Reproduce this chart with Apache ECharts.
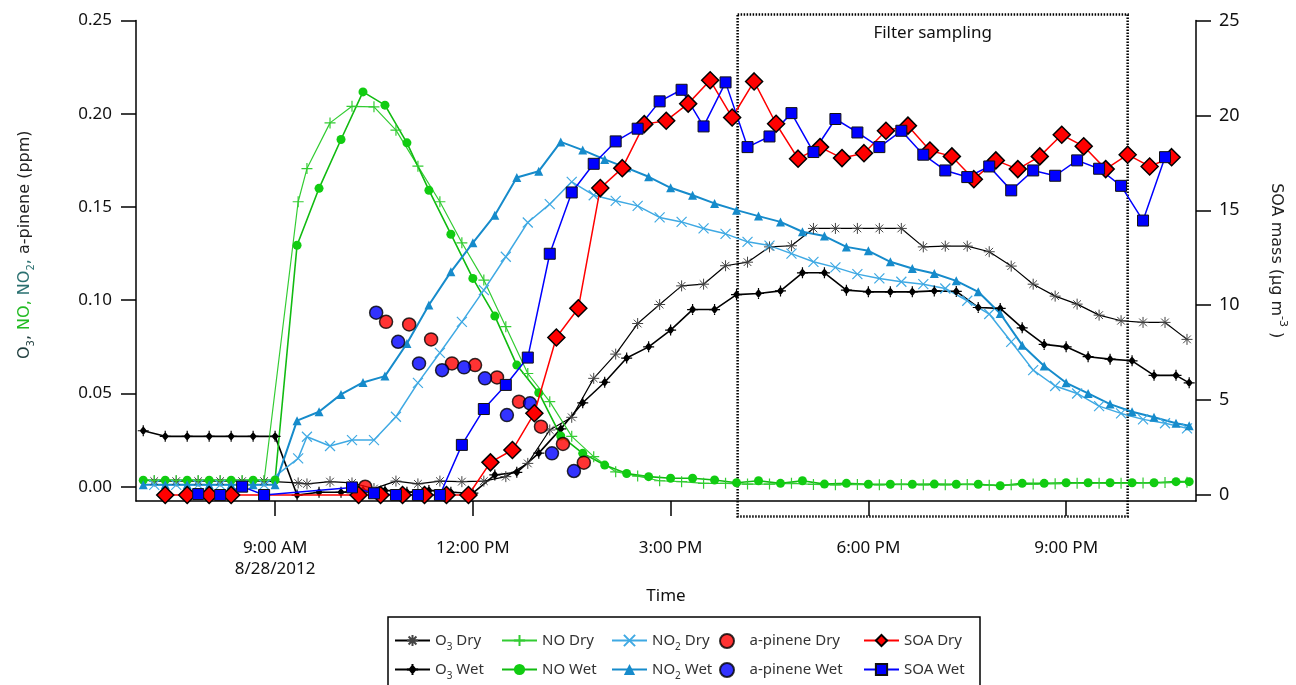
<!DOCTYPE html>
<html><head><meta charset="utf-8">
<script src="https://cdn.jsdelivr.net/npm/echarts@6/dist/echarts.min.js"></script>
<style>html,body{margin:0;padding:0;background:#fff}#c{width:1296px;height:685px}</style>
</head><body><div id="c"></div>
<script>
// ---------- DATA ----------
const wetTimes = ['7:00','7:20','7:40','8:00','8:20','8:40','9:00','9:20','9:40','10:00','10:20','10:40','11:00','11:20','11:40','12:00','12:20','12:40','13:00','13:20','13:40','14:00','14:20','14:40','15:00','15:20','15:40','16:00','16:20','16:40','17:00','17:20','17:40','18:00','18:20','18:40','19:00','19:20','19:40','20:00','20:20','20:40','21:00','21:20','21:40','22:00','22:20','22:40','22:52'];
const dryTimes = ['7:10','7:30','7:50','8:10','8:30','8:50','9:21','9:29','9:50','10:10','10:30','10:50','11:10','11:30','11:50','12:10','12:30','12:50','13:10','13:30','13:50','14:10','14:30','14:50','15:10','15:30','15:50','16:10','16:30','16:50','17:10','17:30','17:50','18:10','18:30','18:50','19:10','19:30','19:50','20:10','20:30','20:50','21:10','21:30','21:50','22:10','22:30','22:50'];

const o3Wet = [0.030,0.027,0.027,0.027,0.027,0.027,0.027,
  -0.0045,-0.003,-0.003,-0.002,-0.002,-0.003,-0.002,-0.003,
  -0.0035,0.0063,0.0077, 0.018,0.031,0.045, 0.056,0.069,0.075, 0.084,0.095,0.095,
  0.103,0.1036,0.105, 0.1147,0.1147,0.1054, 0.1045,0.1045,0.1045, 0.105,0.1047,0.0961,
  0.0956,0.0852,0.0763, 0.075,0.0697,0.0684, 0.0675,0.0597,0.0597, 0.0557];
const noWet = [0.0035,0.0035,0.0035,0.0035,0.0035,0.0035,0.0036,
  0.1295,0.160,0.1862,0.2117,0.2046,0.1844,0.159,0.1354,
  0.1117,0.0915,0.0652, 0.0504,0.0272,0.0179, 0.0116,0.0071,0.0054, 0.0045,0.0045,0.0036,
  0.0021,0.0032,0.0018, 0.0032,0.0014,0.0018, 0.0013,0.0013,0.0013, 0.0014,0.0013,0.0013,
  0.0005,0.0018,0.0018, 0.0021,0.0021,0.0021, 0.0021,0.0021,0.0027, 0.0027];
const no2Wet = [0.001,0.001,0.001,0.001,0.001,0.001,0.001,
  0.0354,0.0402,0.0495,0.0559,0.0593,0.0768,0.0974,0.1152,
  0.1308,0.1456,0.1658, 0.1692,0.1849,0.1805, 0.1755,0.171,0.1662, 0.1603,0.1563,0.1519,
  0.1483,0.1451,0.142, 0.1367,0.1344,0.1286, 0.1265,0.1206,0.117, 0.1143,0.1104,0.1045,
  0.0929,0.0759,0.0647, 0.0557,0.05,0.0443, 0.0402,0.0372,0.034, 0.0327];

const o3Dry = [0.003,0.003,0.003,0.003,0.003,0.003, 0.002,0.0015, 0.0027,
  0.002,-0.001,0.003, 0.0015,0.003,0.0027, 0.003,0.0054,0.0125, 0.0304,0.0372,0.0581,
  0.0711,0.0875,0.0977, 0.1077,0.1086,0.1185, 0.1204,0.1286,0.1292, 0.1385,0.1385,0.1385,
  0.1385,0.1385,0.1286, 0.129,0.129,0.126, 0.1183,0.1086,0.1022, 0.0979,0.092,0.089,
  0.0881,0.0881,0.079];
const noDry = [0.0033,0.0033,0.0033,0.0033,0.0033,0.0033, 0.1528,0.1706, 0.1951,
  0.2040,0.2037,0.1912, 0.1719,0.1528,0.1308, 0.1108,0.0858,0.0607, 0.0456,0.027,0.0161,
  0.008,0.0057,0.0032, 0.0027,0.0018,0.0018, 0.0014,0.0014,0.0018, 0.0012,0.0010,0.0012,
  0.0010,0.0012,0.0010, 0.0010,0.0012,0.0008, 0.0010,0.0014,0.0016, 0.0018,0.0018,0.0018,
  0.0020,0.0022,0.0024];
const no2Dry = [0.001,0.001,0.001,0.001,0.001,0.001, 0.0152,0.0268, 0.0218,
  0.025,0.025,0.0375, 0.0557,0.0718,0.0884, 0.1054,0.1233,0.1417, 0.1515,0.1635,0.1563,
  0.1533,0.1506,0.1444, 0.142,0.1385,0.1356, 0.1313,0.1293,0.125, 0.1206,0.1176,0.114,
  0.1117,0.1099,0.1086, 0.1063,0.0997,0.0926, 0.0777,0.0625,0.054, 0.05,0.0432,0.0393,
  0.0361,0.034,0.0313];

const apDryTimes = ['10:22','10:41','11:02','11:22','11:41','12:02','12:22','12:42','13:02','13:22','13:41'];
const apDry = [0.000,0.0884,0.087,0.079,0.0661,0.0652,0.0586,0.0456,0.0322,0.0229,0.0129];
const apWetTimes = ['10:32','10:52','11:11','11:32','11:52','12:11','12:31','12:52','13:12','13:32'];
const apWet = [0.0933,0.0777,0.0661,0.0625,0.064,0.0581,0.0384,0.0447,0.0179,0.0084];

const soaDryTimes = ['7:20','7:40','8:00','8:20','10:16','10:36','10:56','11:16','11:36','11:56','12:16','12:36','12:56','13:16','13:36','13:56','14:16','14:36','14:56','15:16','15:36','15:56','16:16','16:36','16:56','17:16','17:36','17:56','18:16','18:36','18:56','19:16','19:36','19:56','20:16','20:36','20:56','21:16','21:36','21:56','22:16','22:36'];
const soaDry = [0,0,0,0, 0,0,0,0,0,0, 1.72,2.37,4.31, 8.30,9.84,16.17, 17.22,19.54,19.72,
  20.62,21.85,19.89, 21.79,19.56,17.72, 18.33,17.75,18.01, 19.19,19.46,18.15, 17.84,16.64,17.63,
  17.17,17.84,18.98, 18.37,17.17,17.93, 17.31,17.80];
const soaWetTimes = ['7:50','8:10','8:30','8:50','10:10','10:30','10:50','11:10','11:30','11:50','12:10','12:30','12:50','13:10','13:30','13:50','14:10','14:30','14:50','15:10','15:30','15:50','16:10','16:30','16:50','17:10','17:30','17:50','18:10','18:30','18:50','19:10','19:30','19:50','20:10','20:30','20:50','21:10','21:30','21:50','22:10','22:30'];
const soaWet = [0.05,0,0.44,0, 0.40,0.09,0, 0,0,2.64, 4.53,5.80,7.24, 12.71,15.94,17.45, 18.63,19.30,20.74,
  21.35,19.42,21.74, 18.33,18.89,20.12, 18.07,19.81,19.10, 18.33,19.19,17.93, 17.10,16.75,17.31,
  16.05,17.10,16.82, 17.63,17.19,16.29, 14.46,17.80];

const xTicks = [9, 12, 15, 18, 21];
const xTickLabels = ['9:00 AM\n8/28/2012', '12:00 PM', '3:00 PM', '6:00 PM', '9:00 PM'];
const leftTicks = [0, 0.05, 0.10, 0.15, 0.20, 0.25];
const rightTicks = [0, 5, 10, 15, 20, 25];
const filterStart = '16:01', filterEnd = '21:56';

// ---------- HELPERS ----------
function hrs(t){ const p = t.split(':').map(Number); return p[0] + p[1]/60; }
function pair(times, vals){ return times.map((t,i)=>[hrs(t), vals[i]]); }

const FONT = 'Noto Sans';
const SYM = {
  star: 'path://M5,0L5,10M0,5L10,5M1.5,1.5L8.5,8.5M8.5,1.5L1.5,8.5',
  plus: 'path://M5,0L5,10M0,5L10,5',
  cross: 'path://M0,0L10,10M10,0L0,10',
  dstar: 'path://M5,0L5,10M0,5L10,5M5,1.8L7.6,5L5,8.2L2.4,5Z'
};

function lineSeries(name, data, color, lw, symbol, size, fill, border, bw, yIdx){
  return {
    name, type:'line', data, yAxisIndex: yIdx||0,
    symbol, symbolSize:size, showSymbol:true, showAllSymbol:true,
    lineStyle:{color, width:lw},
    itemStyle:{color:fill, borderColor:border, borderWidth:bw},
    emphasis:{disabled:true}, animation:false, z:2
  };
}

const series = [
  lineSeries('O3 Dry', pair(dryTimes,o3Dry), '#000', 1.2, SYM.star, 11, '#444', '#444', 1),
  lineSeries('O3 Wet', pair(wetTimes,o3Wet), '#000', 1.6, SYM.dstar, 11, '#000', '#000', 1.2),
  lineSeries('NO Dry', pair(dryTimes,noDry), '#33cc33', 1.2, SYM.plus, 11, '#33cc33', '#33cc33', 1.2),
  lineSeries('NO Wet', pair(wetTimes,noWet), '#11bb11', 1.6, 'circle', 9, '#11cc11', '#11cc11', 0),
  lineSeries('NO2 Dry', pair(dryTimes,no2Dry), '#3fa9e3', 1.5, SYM.cross, 10, '#3fa9e3', '#3fa9e3', 1.2),
  lineSeries('NO2 Wet', pair(wetTimes,no2Wet), '#168bcb', 2, 'triangle', 9, '#168bcb', '#168bcb', 0),
  {name:'a-pinene Dry', type:'scatter', data: pair(apDryTimes,apDry), symbol:'circle', symbolSize:13,
   itemStyle:{color:'#ff0000', borderColor:'#000', borderWidth:1.5}, emphasis:{disabled:true}, animation:false, z:3},
  {name:'a-pinene Wet', type:'scatter', data: pair(apWetTimes,apWet), symbol:'circle', symbolSize:13,
   itemStyle:{color:'#0000ff', borderColor:'#000', borderWidth:1.5}, emphasis:{disabled:true}, animation:false, z:3},
  Object.assign(lineSeries('SOA Dry', pair(soaDryTimes,soaDry), '#ff0000', 1.5, 'diamond', 17, '#ff0000', '#000', 1.5, 1), {z:4}),
  Object.assign(lineSeries('SOA Wet', pair(soaWetTimes,soaWet), '#0000ff', 1.5, 'rect', 11, '#0000ff', '#111', 1, 1), {z:4})
];

const legendRich = {
  n:{fontSize:15, fontFamily:FONT, color:'#333', lineHeight:20, verticalAlign:'middle'},
  s:{fontSize:10, fontFamily:FONT, color:'#333', lineHeight:20, verticalAlign:'bottom', padding:[0,0,-2,0]}
};
function legendLabel(name){
  let m = name.match(/^(O|NO)(3|2) (.*)$/);
  if (m) return '{n|' + m[1] + '}{s|' + m[2] + '}{n| ' + m[3] + '}';
  return '{n|' + name + '}';
}
const legendCols = [394, 501, 611, 719, 863];
const legendRows = [633, 662];
const legendNames = [['O3 Dry','NO Dry','NO2 Dry','a-pinene Dry','SOA Dry'],
                     ['O3 Wet','NO Wet','NO2 Wet','a-pinene Wet','SOA Wet']];
const legends = [];
legendNames.forEach((row, r) => row.forEach((nm, c) => {
  legends.push({data:[nm], left:legendCols[c], top:legendRows[r], itemWidth:35, itemHeight:14,
    selectedMode:false, padding:0, formatter: legendLabel,
    textStyle:{fontSize:15, fontFamily:FONT, color:'#333', rich:legendRich}});
}));

const axisLineStyle = {color:'#000', width:1.5};
const chart = echarts.init(document.getElementById('c'), null, {renderer:'canvas'});
chart.setOption({
  backgroundColor:'#fff',
  animation:false,
  grid:{left:136, right:98, top:20.5, bottom:184, containLabel:false},
  legend: legends,
  xAxis:{
    type:'value', min:6.89, max:22.97,
    name:'Time', nameLocation:'middle', nameGap:87,
    nameTextStyle:{fontSize:17, fontFamily:FONT, color:'#111'},
    axisLine:{show:true, lineStyle:axisLineStyle, onZero:false},
    axisTick:{show:true, length:15, inside:false, customValues:xTicks, lineStyle:axisLineStyle},
    axisLabel:{show:true, customValues:xTicks, margin:37, fontSize:17, lineHeight:21, fontFamily:FONT, color:'#111',
      formatter:(v)=>{ const i = xTicks.indexOf(Math.round(v)); return i>=0 ? xTickLabels[i] : ''; }},
    splitLine:{show:false}
  },
  yAxis:[{
    type:'value', min:-0.00767, max:0.25, position:'left',
    name:'{o|O}{os|3}{o|, }{g|NO, }{t|NO}{ts|2}{t|, }{k|a-pinene (ppm)}',
    nameLocation:'middle', nameGap:100, nameRotate:90,
    nameTextStyle:{fontFamily:'DejaVu Sans', fontSize:16, color:'#222', padding:[0,0,0,32],
      rich:{
        o:{fontFamily:'DejaVu Sans', fontSize:16, color:'#1e3c3c', lineHeight:22, verticalAlign:'middle'},
        os:{fontFamily:'DejaVu Sans', fontSize:10, color:'#1e3c3c', lineHeight:22, verticalAlign:'bottom'},
        g:{fontFamily:'DejaVu Sans', fontSize:16, color:'#22bb22', lineHeight:22, verticalAlign:'middle'},
        t:{fontFamily:'DejaVu Sans', fontSize:16, color:'#2a7070', lineHeight:22, verticalAlign:'middle'},
        ts:{fontFamily:'DejaVu Sans', fontSize:10, color:'#2a7070', lineHeight:22, verticalAlign:'bottom'},
        k:{fontFamily:'DejaVu Sans', fontSize:16, color:'#222', lineHeight:22, verticalAlign:'middle'}
      }},
    axisLine:{show:true, lineStyle:axisLineStyle, onZero:false},
    axisTick:{show:true, length:15, inside:false, customValues:leftTicks, lineStyle:axisLineStyle},
    axisLabel:{customValues:leftTicks, margin:24, fontSize:17, fontFamily:FONT, color:'#111',
      formatter:(v)=>v.toFixed(2)},
    splitLine:{show:false}
  },{
    type:'value', min:-0.316, max:25, position:'right',
    name:'{k|SOA mass (μg m}{sp|-3}{k| )}',
    nameLocation:'middle', nameGap:68, nameRotate:-90,
    nameTextStyle:{fontFamily:'DejaVu Sans', fontSize:16, color:'#222',
      rich:{
        k:{fontFamily:'DejaVu Sans', fontSize:16, color:'#222', lineHeight:24, verticalAlign:'middle'},
        sp:{fontFamily:'DejaVu Sans', fontSize:11, color:'#222', lineHeight:24, verticalAlign:'top'}
      }},
    axisLine:{show:true, lineStyle:axisLineStyle, onZero:false},
    axisTick:{show:true, length:15, inside:false, customValues:rightTicks, lineStyle:axisLineStyle},
    axisLabel:{customValues:rightTicks, margin:23, fontSize:18, fontFamily:FONT, color:'#111'},
    splitLine:{show:false}
  }],
  series
});

// Filter sampling box, positioned through the x axis scale
const xa = chart.convertToPixel({xAxisIndex:0}, hrs(filterStart));
const xb = chart.convertToPixel({xAxisIndex:0}, hrs(filterEnd));
chart.setOption({
  graphic:[
    {type:'rect', shape:{x:xa, y:14.5, width:xb-xa, height:502}, silent:true, z:1,
     style:{fill:'none', stroke:'#000', lineWidth:2.5, lineDash:[1.5,1.5]}},
    {type:'text', x:(xa+xb)/2, y:33, silent:true, z:5,
     style:{text:'Filter sampling', fontSize:17, fontFamily:FONT, fill:'#111', textAlign:'center', textVerticalAlign:'middle'}},
    {type:'rect', shape:{x:388, y:617, width:592, height:90}, silent:true, z:0,
     style:{fill:'none', stroke:'#000', lineWidth:1.5}}
  ]
});
</script>
</body></html>
